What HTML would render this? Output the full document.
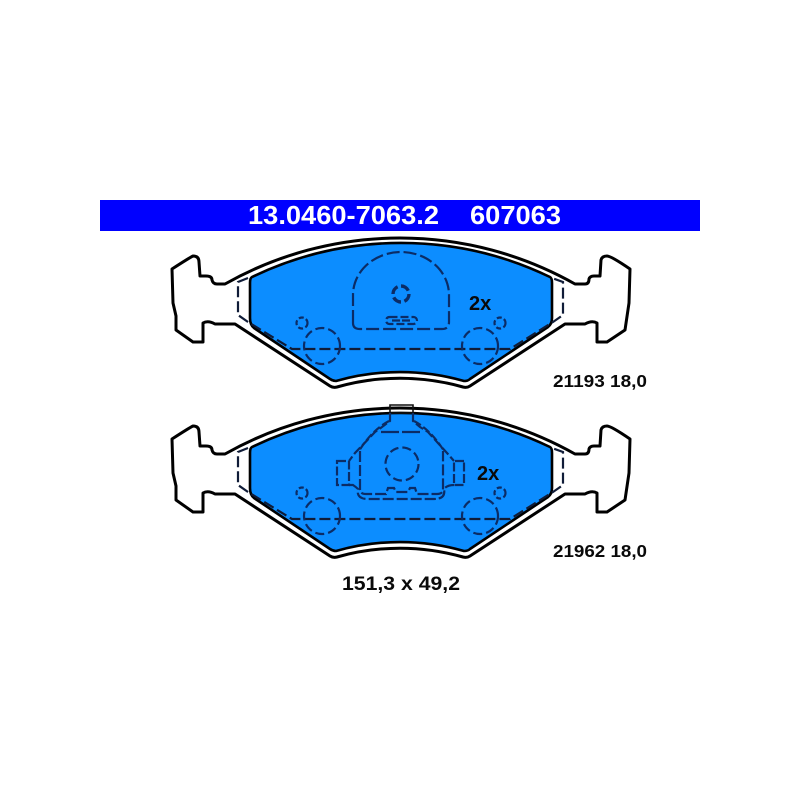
<!DOCTYPE html>
<html><head><meta charset="utf-8"><style>html,body{margin:0;padding:0;background:#fff}svg{display:block}text{font-family:"Liberation Sans",sans-serif;font-weight:700;fill:#0a0a0a}</style></head>
<body>
<svg width="800" height="800" viewBox="0 0 800 800" xmlns="http://www.w3.org/2000/svg">
<defs>
<g id="pad">
<path d="M225 284 A356 356 0 0 1 575 284 L585 284 Q589 284 589 279 Q590 276 594 276 L600 276 L601 260 Q602 256 607 256 Q611 256 630 269 L629 303 L625 330 L607 342 L597 342 L597 323 Q592 320 585 324 L565 324 L470 386 Q467 388 463 387 A230 230 0 0 0 337 387 Q333 388 330 386 L235 324 L215 324 Q208 320 203 323 L203 342 L193 342 L176 330 L176 316 L173 303 L172 269 Q189 258 193 256 Q199 256 199 262 L200 276 L206 276 Q212 276 212 280 Q213 284 217 284 Z" fill="#fff" stroke="#000" stroke-width="3" stroke-linejoin="round"/>
<path d="M250 283 Q250 278 252 277 A343 343 0 0 1 550 277 Q552 278 552 283 L552 318 Q552 324 548 327 L470 379 Q468 381 464 381 A233 233 0 0 0 336 381 Q333 381 330 379 L254 328 Q250 325 250 318 Z" fill="#0c8dff" stroke="#000" stroke-width="2.6" stroke-linejoin="round"/>
<g fill="none" stroke="#0b2c66" stroke-width="2.2">
<path d="M248 278 L238 282 L238 315 L248 322 L292 349 L510 349 L553 322 L563 315 L563 282 L552 278" stroke-dasharray="11 4" stroke="#101c38"/>
<circle cx="322" cy="346" r="18" stroke-dasharray="9 4"/>
<circle cx="480" cy="346" r="18" stroke-dasharray="9 4"/>
<circle cx="302" cy="323" r="5.5" stroke-dasharray="5 2.5"/>
<circle cx="500" cy="323" r="5.5" stroke-dasharray="5 2.5"/>
</g>
</g>
</defs>
<rect x="100" y="200" width="600" height="31" fill="#0000ff"/>
<text x="248" y="224" font-size="26" style="fill:#fff" textLength="191" lengthAdjust="spacingAndGlyphs">13.0460-7063.2</text>
<text x="470" y="224" font-size="26" style="fill:#fff" textLength="91" lengthAdjust="spacingAndGlyphs">607063</text>

<use href="#pad"/>
<g fill="none" stroke="#0b2c66" stroke-width="2.2">
<path d="M353 323 L353 295 A48 43 0 0 1 449 295 L449 322 Q449 329 442 329 L360 329 Q353 329 353 323" stroke-dasharray="13 4"/>
<circle cx="401" cy="294" r="8" stroke-width="3.4" stroke-dasharray="9 3.5"/>
<rect x="386" y="317" width="31" height="7" rx="3.5" stroke-dasharray="8 3"/>
<path d="M392 320.500 L412 320.500" stroke-dasharray="8 2"/>
</g>
<text x="469" y="310" font-size="20">2x</text>
<text x="553" y="387" font-size="17.5" textLength="94" lengthAdjust="spacingAndGlyphs">21193 18,0</text>

<use href="#pad" y="170"/>
<g fill="none" stroke="#0b2c66" stroke-width="2.2">
<path d="M390 413 L390 405 L413 405 L413 413 L390 413" stroke="#111" stroke-width="1.6"/>
<path d="M390 413 L390 421 L382 427 L375 432 L355 453 L349 461 M413 413 L413 421 L420 427 L428 432 L447 453 L454 461" stroke-dasharray="9 3"/>
<path d="M381 432 L422 432" stroke-dasharray="18 3"/>
<path d="M389 421 Q372 430 359 451 M414 421 Q431 430 444 451" stroke-dasharray="8 3"/>
<path d="M337 461 L349 461 L349 485 L337 485 Z M464 461 L454 461 L454 485 L464 485 Z" stroke-dasharray="9 2.500"/>
<path d="M349 485 L353 485 Q356 487 358 489 Q356 499 368 499 L434 499 Q446 499 444 489 Q447 485 454 485" stroke-dasharray="11 3"/>
<path d="M360 451 L360 489 Q360 494 366 494 L386 494 L388 488 L394 488 L396 492 L408 492 L410 488 L415 488 L417 494 L437 494 Q443 494 443 489 L443 451" stroke-dasharray="11 3"/>
<circle cx="402" cy="464" r="16.500" stroke-dasharray="9 4"/>
</g>
<text x="477" y="480" font-size="20">2x</text>
<text x="553" y="557" font-size="17.5" textLength="94" lengthAdjust="spacingAndGlyphs">21962 18,0</text>
<text x="342" y="590" font-size="19.5" textLength="118" lengthAdjust="spacingAndGlyphs">151,3 x 49,2</text>
</svg>
</body></html>
